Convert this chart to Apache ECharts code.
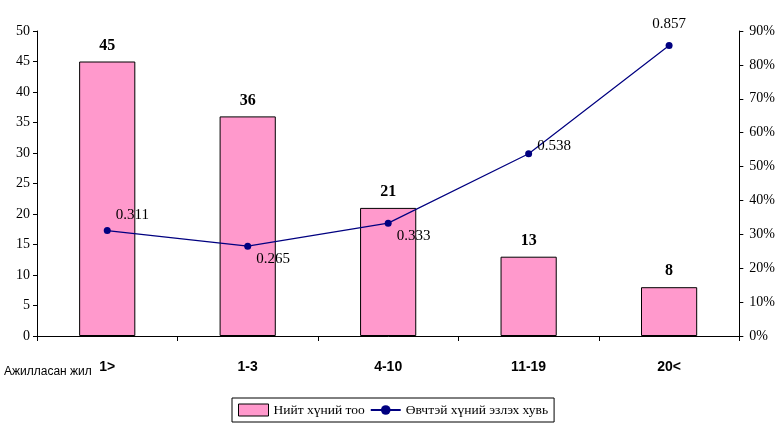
<!DOCTYPE html>
<html><head><meta charset="utf-8">
<script src="https://cdn.jsdelivr.net/npm/echarts@6/dist/echarts.min.js"></script>
<style>html,body{margin:0;padding:0;background:#fff}#c{width:778px;height:423px}</style>
</head><body><div id="c"></div>
<script>
var categories = ['1>', '1-3', '4-10', '11-19', '20<'];
var countValues = [45, 36, 21, 13, 8];
var shareValues = [0.311, 0.265, 0.333, 0.538, 0.857];
var leftTicks = [0, 50, 5];
var rightTicks = [0, 0.9, 0.1];
var barName = 'Нийт хүний тоо';
var lineName = 'Өвчтэй хүний эзлэх хувь';
var xTitle = 'Ажилласан жил';

var labelPos = [
  {position: 'right', offset: [0, -16]},
  {position: 'right', offset: [0, 13]},
  {position: 'right', offset: [0, 13]},
  {position: 'right', offset: [0, -8]},
  {position: 'top', offset: [0, -6]}
];

var chart = echarts.init(document.getElementById('c'));
var serif = 'Liberation Serif';
chart.setOption({
  animation: false,
  grid: {left: 37, right: 37, top: 31, bottom: 87, containLabel: false},
  legend: {
    left: 232, top: 398, width: 323,
    itemGap: 5, itemWidth: 30, itemHeight: 12,
    padding: [5, 6, 5, 6],
    borderColor: '#000', borderWidth: 1,
    textStyle: {fontFamily: serif, fontSize: 13.5, color: '#000'},
    data: [
      {name: barName, icon: 'rect', itemStyle: {color: '#FF99CC', borderColor: '#000', borderWidth: 1}},
      {name: lineName}
    ]
  },
  graphic: [{
    type: 'text', left: 4, top: 366,
    style: {text: xTitle, fontFamily: 'Liberation Sans', fontSize: 12, fill: '#000', letterSpacing: -1.5}
  }],
  xAxis: {
    type: 'category', data: categories,
    axisLine: {lineStyle: {color: '#000'}},
    axisTick: {show: true, length: 5, lineStyle: {color: '#000'}, alignWithLabel: false},
    axisLabel: {margin: 24, fontFamily: 'Liberation Sans', fontWeight: 'bold', fontSize: 14, color: '#000', letterSpacing: -0.8}
  },
  yAxis: [{
    type: 'value', min: leftTicks[0], max: leftTicks[1], interval: leftTicks[2],
    axisLine: {show: true, lineStyle: {color: '#000'}},
    axisTick: {show: true, length: 4, lineStyle: {color: '#000'}},
    splitLine: {show: false},
    axisLabel: {margin: 7, fontFamily: serif, fontSize: 14, color: '#000', letterSpacing: -0.8}
  }, {
    type: 'value', min: rightTicks[0], max: rightTicks[1], interval: rightTicks[2],
    position: 'right',
    axisLine: {show: true, lineStyle: {color: '#000'}},
    axisTick: {show: true, length: 4, lineStyle: {color: '#000'}},
    splitLine: {show: false},
    axisLabel: {margin: 10, fontFamily: serif, fontSize: 14, color: '#000', letterSpacing: -0.8,
      formatter: function (v) { return Math.round(v * 100) + '%'; }}
  }],
  series: [{
    name: barName, type: 'bar', data: countValues, barWidth: '40%',
    itemStyle: {color: '#FF99CC', borderColor: '#000', borderWidth: 1},
    label: {show: true, position: 'top', distance: 8, fontFamily: serif, fontWeight: 'bold', fontSize: 16, color: '#000', letterSpacing: -0.8}
  }, {
    name: lineName, type: 'line', yAxisIndex: 1,
    data: shareValues.map(function (v, i) {
      return {value: v, label: labelPos[i]};
    }),
    symbol: 'circle', symbolSize: 7,
    lineStyle: {color: '#000080', width: 1.2},
    itemStyle: {color: '#000080'},
    label: {show: true, fontFamily: serif, fontSize: 15, color: '#000', letterSpacing: -0.6,
      formatter: function (p) { return String(p.value); }}
  }]
});
</script></body></html>
